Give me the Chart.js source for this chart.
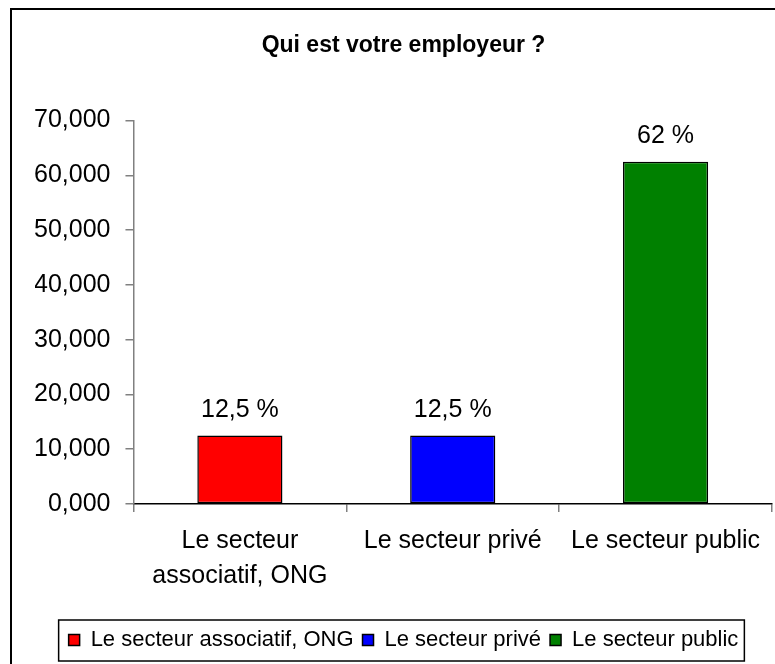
<!DOCTYPE html>
<html>
<head>
<meta charset="utf-8">
<title>Qui est votre employeur ?</title>
<script src="https://cdn.jsdelivr.net/npm/chart.js@4/dist/chart.umd.min.js"></script>
<style>
	html, body { margin: 0; padding: 0; background: #fff; }
	#wrap { width: 775px; height: 664px; position: relative; }
</style>
</head>
<body>
<div id="wrap"><canvas id="chart"></canvas></div>
<script>
var categories = ['Le secteur associatif, ONG', 'Le secteur privé', 'Le secteur public'];
var tickLabels = [['Le secteur', 'associatif, ONG'], 'Le secteur privé', 'Le secteur public'];
var values = [12.5, 12.5, 62.5];
var valueLabels = ['12,5 %', '12,5 %', '62 %'];
var colors = ['#ff0000', '#0000ff', '#008000'];

var fontFamily = "'Liberation Sans', Arial, sans-serif";

// outer frame + legend frame
var framePlugin = {
	id: 'frame',
	afterDraw: function (chart) {
		var ctx = chart.ctx;
		ctx.save();
		ctx.strokeStyle = '#000';
		ctx.lineWidth = 2;
		ctx.strokeRect(11, 9, 800, 700);
		var boxes = chart.legend.legendHitBoxes;
		if (boxes && boxes.length) {
			var left = boxes[0].left;
			var last = boxes[boxes.length - 1];
			var right = last.left + last.width;
			ctx.lineWidth = 1.5;
			ctx.strokeRect(left - 10, chart.legend.top, right - left + 16, chart.legend.height);
		}
		ctx.restore();
	}
};

// percentage text above each bar
var valueLabelPlugin = {
	id: 'valueLabels',
	afterDatasetsDraw: function (chart) {
		var ctx = chart.ctx;
		var meta = chart.getDatasetMeta(0);
		ctx.save();
		ctx.font = '25px ' + fontFamily;
		ctx.fillStyle = '#000';
		ctx.textAlign = 'center';
		ctx.textBaseline = 'alphabetic';
		for (var i = 0; i < meta.data.length; i++) {
			var bar = meta.data[i];
			ctx.fillText(valueLabels[i], bar.x, bar.y - 19);
		}
		ctx.restore();
	}
};

var chart = new Chart(document.getElementById('chart'), {
	type: 'bar',
	data: {
		labels: tickLabels,
		datasets: [{
			data: values,
			backgroundColor: colors,
			borderColor: '#000',
			borderWidth: 1.5,
			borderSkipped: false,
			barPercentage: 0.4,
			categoryPercentage: 1
		}]
	},
	options: {
		responsive: true,
		maintainAspectRatio: false,
		animation: false,
		layout: {
			padding: { top: 10, left: 35, right: 3, bottom: 3 }
		},
		plugins: {
			title: {
				display: true,
				text: 'Qui est votre employeur ?',
				color: '#000',
				font: { family: fontFamily, size: 23, weight: 'bold' },
				padding: { top: 22, bottom: 61 }
			},
			legend: {
				position: 'bottom',
				onClick: null,
				labels: {
					color: '#000',
					font: { family: fontFamily, size: 22 },
					boxWidth: 11,
					boxHeight: 11,
					padding: 9,
					generateLabels: function () {
						return categories.map(function (c, i) {
							return {
								text: c,
								fillStyle: colors[i],
								strokeStyle: '#000',
								lineWidth: 1.5,
								hidden: false,
								index: i
							};
						});
					}
				}
			},
			tooltip: { enabled: false }
		},
		scales: {
			x: {
				border: { display: true, color: '#000', width: 1.5 },
				grid: {
					display: true,
					drawOnChartArea: false,
					drawTicks: true,
					tickLength: 8,
					color: '#808080',
					lineWidth: 1.5,
					offset: true
				},
				ticks: {
					color: '#000',
					font: { family: fontFamily, size: 25, lineHeight: 1.4 },
					padding: 12,
					maxRotation: 0,
					autoSkip: false
				},
				afterFit: function (scale) {
					scale.height += 14;
				}
			},
			y: {
				min: 0,
				max: 70,
				border: { display: true, color: '#808080', width: 1.5 },
				grid: {
					display: true,
					drawOnChartArea: false,
					drawTicks: true,
					tickLength: 8,
					color: '#808080',
					lineWidth: 1.5
				},
				ticks: {
					stepSize: 10,
					color: '#000',
					font: { family: fontFamily, size: 25 },
					padding: 15,
					callback: function (v) {
						return v.toFixed(3).replace('.', ',');
					}
				},
				afterFit: function (scale) {
					scale.width -= 16;
				}
			}
		}
	},
	plugins: [framePlugin, valueLabelPlugin]
});
</script>
</body>
</html>
